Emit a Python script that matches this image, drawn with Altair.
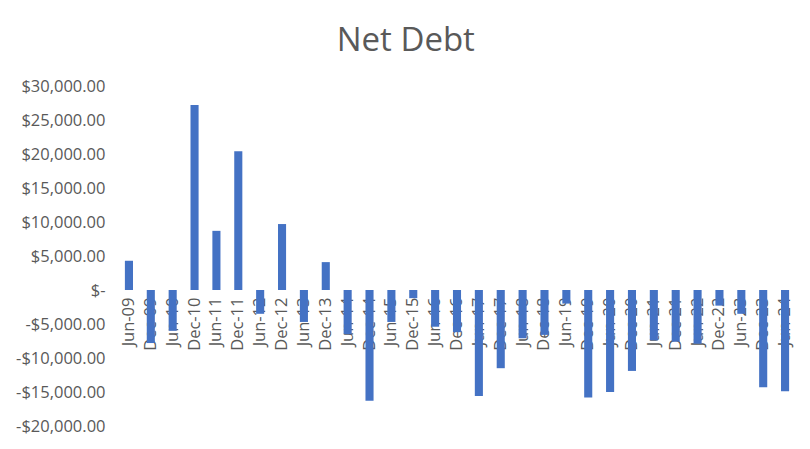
import altair as alt
import pandas as pd

periods = ["Jun-09", "Dec-09", "Jun-10", "Dec-10", "Jun-11", "Dec-11", "Jun-12", "Dec-12",
           "Jun-13", "Dec-13", "Jun-14", "Dec-14", "Jun-15", "Dec-15", "Jun-16", "Dec-16",
           "Jun-17", "Dec-17", "Jun-18", "Dec-18", "Jun-19", "Dec-19", "Jun-20", "Dec-20",
           "Jun-21", "Dec-21", "Jun-22", "Dec-22", "Jun-23", "Dec-23", "Jun-24"]
net_debt = [4300, -7800, -6000, 27200, 8700, 20400, -3500, 9700,
            -4700, 4100, -6500, -16300, -4700, -1200, -5400, -6200,
            -15600, -11500, -7100, -6600, -2000, -15800, -15000, -11900,
            -7400, -7600, -7900, -2300, -3500, -14300, -14900]
y_ticks = [-20000, -15000, -10000, -5000, 0, 5000, 10000, 15000, 20000, 25000, 30000]

df = pd.DataFrame({"period": periods, "value": net_debt})

TEXT = "#595959"
FONT = "Open Sans"
H = 340

label_expr = ("datum.value == 0 ? '$-\u00a0\u00a0' : "
              "(datum.value < 0 ? '-$' : '$') + format(abs(datum.value), ',.2f')")

chart = alt.Chart(df).mark_bar(color="#4472C4").encode(
    x=alt.X("period:N", sort=periods,
            scale=alt.Scale(paddingInner=0.63, paddingOuter=0.315),
            axis=alt.Axis(title=None, labelAngle=-90, domain=False, ticks=False,
                          labelPadding=7, offset=-(H * 20000 / 50000),
                          labelFont=FONT, labelFontSize=16.5, labelColor=TEXT,
                          labelOverlap=False)),
    y=alt.Y("value:Q", scale=alt.Scale(domain=[-20000, 30000], nice=False),
            axis=alt.Axis(title=None, values=y_ticks, grid=False, domain=False, ticks=False,
                          labelPadding=13, labelExpr=label_expr,
                          labelFont=FONT, labelFontSize=16.5, labelColor=TEXT)),
).properties(
    width=678, height=H,
    title=alt.TitleParams("Net Debt", font=FONT, fontSize=33, fontWeight="normal",
                          color=TEXT, anchor="middle", frame="bounds", offset=20),
    padding={"left": 7, "top": 17, "right": 5, "bottom": 5},
).configure_view(stroke=None)

chart.save("out.html", embed_options={"renderer": "svg", "actions": False})
